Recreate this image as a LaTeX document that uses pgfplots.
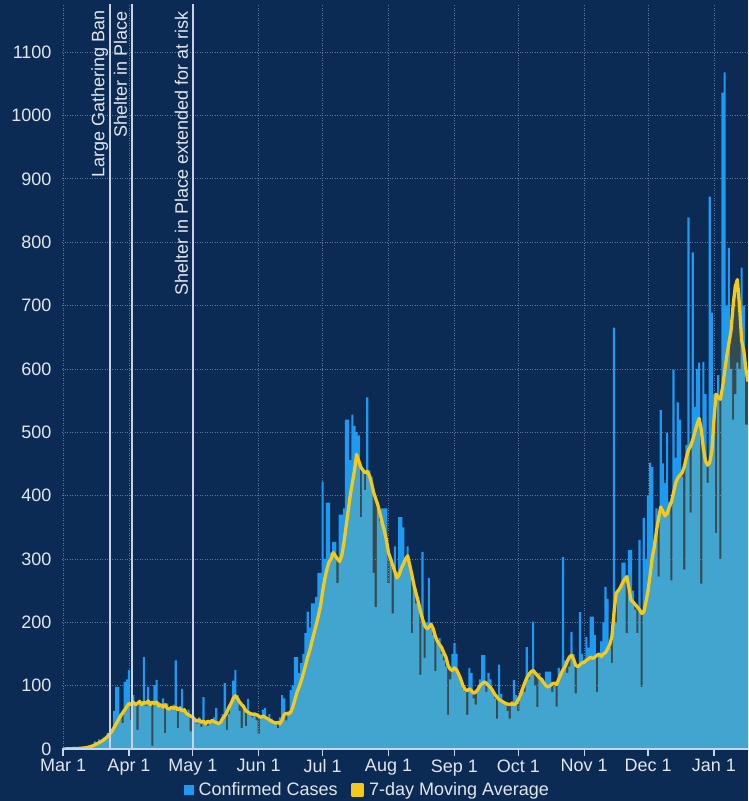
\documentclass[border=0pt]{standalone}
\usepackage{fontspec}
\setmainfont{Liberation Sans}
\usepackage{pgfplots}
\pgfplotsset{compat=1.18}
\usetikzlibrary{calc}
\definecolor{bgnavy}{RGB}{12,43,84}
\definecolor{barblue}{RGB}{28,155,240}
\definecolor{avgyellow}{RGB}{245,200,25}
\definecolor{avgfill}{RGB}{215,205,80}
\definecolor{gridc}{RGB}{95,120,155}
\definecolor{axislight}{RGB}{195,215,235}
\definecolor{labelc}{RGB}{225,230,238}
\definecolor{eventc}{RGB}{200,210,225}
\begin{document}
\begin{tikzpicture}
\useasboundingbox (0,0) rectangle (748pt,801pt);
\fill[bgnavy] (0,0) rectangle (748pt,801pt);
\begin{axis}[
  at={(62pt,52pt)}, anchor=south west,
  scale only axis, width=686pt, height=745pt,
  xmin=-0.5, xmax=322, ymin=0, ymax=1176,
  axis line style={draw=none},
  xtick={0,31,61,92,122,153,184,214,245,275,306},
  xticklabels={Mar 1,Apr 1,May 1,Jun 1,Jul 1,Aug 1,Sep 1,Oct 1,Nov 1,Dec 1,Jan 1},
  ytick={0,100,...,1100},
  tick align=outside,
  xtick pos=left, ytick pos=left,
  major tick length=7pt,
  xtick style={color=axislight, line width=1.2pt},
  ytick style={draw=none},
  grid=major,
  major grid style={color=gridc, line width=0.7pt, dash pattern=on 1pt off 1.5pt},
  tick label style={font=\fontsize{18}{21}\selectfont, text=labelc},
  /pgf/number format/assume math mode=true,
  /pgf/number format/1000 sep={},
  legend columns=2,
  legend style={at={(0.445,-0.055)}, anchor=center, draw=none, fill=none,
    text=labelc, font=\fontsize{18}{21}\selectfont,
    /tikz/every odd column/.append style={column sep=3pt},
    /tikz/every even column/.append style={column sep=11pt}},
]
\addplot[fill=barblue, draw=none, const plot mark mid,
  legend image code/.code={\fill[barblue] (0pt,-5pt) rectangle (10pt,5pt);}] coordinates {
(0,0)(1,0)(2,0)(3,1)(4,0)(5,1)(6,1)(7,2)(8,1)(9,2)(10,3)(11,2)(12,4)(13,5)(14,8)(15,12)(16,10)(17,15)(18,14)(19,18)(20,17)(21,25)(22,30)(23,32)(24,60)(25,98)(26,98)(27,55)(28,41)(29,106)(30,110)
(31,125)(32,46)(33,85)(34,72)(35,30)(36,78)(37,70)(38,145)(39,68)(40,98)(41,76)(42,5)(43,101)(44,109)(45,74)(46,70)(47,80)(48,25)(49,72)(50,66)(51,62)(52,70)(53,140)(54,33)(55,68)(56,95)(57,60)(58,55)(59,62)(60,28)
(61,90)(62,45)(63,40)(64,50)(65,35)(66,82)(67,40)(68,37)(69,45)(70,42)(71,50)(72,65)(73,38)(74,42)(75,55)(76,104)(77,30)(78,55)(79,70)(80,108)(81,125)(82,85)(83,60)(84,33)(85,70)(86,36)(87,79)(88,55)(89,50)(90,58)(91,45)
(92,24)(93,52)(94,62)(95,65)(96,45)(97,55)(98,48)(99,40)(100,42)(101,33)(102,50)(103,85)(104,80)(105,45)(106,60)(107,93)(108,100)(109,145)(110,145)(111,120)(112,136)(113,150)(114,183)(115,217)(116,192)(117,230)(118,230)(119,240)(120,278)(121,278)
(122,422)(123,300)(124,389)(125,389)(126,310)(127,327)(128,327)(129,262)(130,370)(131,370)(132,380)(133,520)(134,520)(135,456)(136,528)(137,510)(138,500)(139,495)(140,366)(141,440)(142,409)(143,555)(144,440)(145,430)(146,278)(147,224)(148,380)(149,360)(150,380)(151,380)(152,380)
(153,262)(154,300)(155,214)(156,320)(157,280)(158,366)(159,366)(160,350)(161,300)(162,320)(163,290)(164,183)(165,260)(166,230)(167,240)(168,117)(169,311)(170,144)(171,200)(172,270)(173,190)(174,180)(175,123)(176,170)(177,175)(178,150)(179,140)(180,130)(181,54)(182,110)(183,150)
(184,167)(185,150)(186,120)(187,110)(188,95)(189,90)(190,54)(191,128)(192,120)(193,80)(194,70)(195,95)(196,110)(197,148)(198,148)(199,90)(200,120)(201,110)(202,95)(203,80)(204,48)(205,133)(206,87)(207,75)(208,70)(209,60)(210,48)(211,75)(212,109)(213,85)
(214,60)(215,80)(216,97)(217,90)(218,161)(219,110)(220,120)(221,201)(222,100)(223,66)(224,120)(225,110)(226,100)(227,122)(228,122)(229,122)(230,90)(231,100)(232,67)(233,128)(234,120)(235,303)(236,140)(237,120)(238,130)(239,185)(240,150)(241,88)(242,130)(243,216)(244,150)
(245,140)(246,177)(247,160)(248,209)(249,209)(250,180)(251,90)(252,150)(253,170)(254,200)(255,256)(256,237)(257,160)(258,136)(259,665)(260,200)(261,250)(262,252)(263,294)(264,294)(265,183)(266,314)(267,314)(268,250)(269,220)(270,183)(271,330)(272,98)(273,365)(274,300)
(275,400)(276,452)(277,445)(278,330)(279,380)(280,272)(281,535)(282,451)(283,420)(284,499)(285,390)(286,266)(287,599)(288,460)(289,547)(290,520)(291,430)(292,283)(293,480)(294,839)(295,373)(296,784)(297,540)(298,600)(299,610)(300,261)(301,611)(302,560)(303,420)(304,872)(305,689)
(306,560)(307,341)(308,590)(309,300)(310,1036)(311,1068)(312,700)(313,791)(314,600)(315,520)(316,560)(317,610)(318,600)(319,760)(320,700)(321,512)(322,512)
} \closedcycle;
\addlegendentry{Confirmed Cases}
\addplot[fill=avgfill, fill opacity=0.2, draw=none, forget plot] coordinates {
(0,0)(4,0.5)(8,1)(11,2)(14,5)(17,10)(19,14)(21,20)(23,28)(25,40)(27,52)(29,62)(31,72)(32,70)(33,74)(34,70)(35,72)(36,75)(37,70)(38,74)(39,72)(40,76)(41,70)(42,74)(43,72)(44,74)(45,68)(46,70)(47,66)(48,70)(49,64)(50,63)(51,66)(52,64)(53,66)(54,62)(55,64)(56,60)(57,62)(58,56)(59,54)(60,52)
(61,50)(62,46)(63,44)(64,46)(65,42)(66,44)(67,40)(68,44)(69,42)(70,45)(71,43)(72,42)(73,40)(74,42)(75,48)(76,52)(77,58)(78,66)(79,72)(80,80)(81,84)(82,80)(83,74)(84,70)(85,66)(86,60)(87,58)(88,56)(89,55)(90,55)(91,54)
(92,52)(93,50)(94,52)(95,50)(96,48)(97,46)(98,44)(99,42)(100,41)(101,42)(102,40)(103,46)(104,55)(105,56)(106,55)(107,58)(108,66)(109,78)(110,90)(111,98)(112,108)(113,120)(114,132)(115,145)(116,156)(117,170)(118,183)(119,196)(120,210)(121,225)
(122,248)(123,268)(124,283)(125,295)(126,300)(127,310)(128,305)(129,300)(130,296)(131,305)(132,325)(133,350)(134,375)(135,400)(136,420)(137,440)(138,465)(139,455)(140,445)(141,440)(142,436)(143,438)(144,432)(145,420)(146,405)(147,395)(148,385)(149,372)(150,358)(151,345)(152,330)
(153,310)(154,300)(155,290)(156,280)(157,270)(158,275)(159,285)(160,292)(161,300)(162,305)(163,290)(164,275)(165,258)(166,245)(167,232)(168,218)(169,205)(170,195)(171,190)(172,192)(173,197)(174,190)(175,178)(176,170)(177,165)(178,160)(179,152)(180,145)(181,132)(182,126)(183,124)
(184,128)(185,125)(186,118)(187,110)(188,100)(189,94)(190,92)(191,95)(192,92)(193,88)(194,90)(195,94)(196,100)(197,103)(198,106)(199,104)(200,100)(201,97)(202,92)(203,86)(204,82)(205,78)(206,76)(207,74)(208,72)(209,71)(210,70)(211,72)(212,70)(213,72)
(214,78)(215,85)(216,95)(217,104)(218,112)(219,118)(220,122)(221,124)(222,120)(223,116)(224,112)(225,110)(226,104)(227,100)(228,98)(229,100)(230,103)(231,104)(232,102)(233,110)(234,118)(235,125)(236,130)(237,138)(238,145)(239,148)(240,142)(241,132)(242,130)(243,133)(244,136)
(245,137)(246,140)(247,142)(248,145)(249,143)(250,145)(251,148)(252,150)(253,146)(254,150)(255,152)(256,158)(257,165)(258,177)(259,215)(260,246)(261,250)(262,255)(263,262)(264,268)(265,272)(266,255)(267,235)(268,232)(269,228)(270,224)(271,220)(272,214)(273,216)(274,232)
(275,250)(276,275)(277,303)(278,320)(279,345)(280,365)(281,382)(282,375)(283,368)(284,372)(285,382)(286,390)(287,405)(288,420)(289,428)(290,432)(291,436)(292,445)(293,460)(294,472)(295,478)(296,488)(297,500)(298,512)(299,522)(300,505)(301,475)(302,455)(303,448)(304,452)(305,470)
(306,520)(307,560)(308,555)(309,552)(310,570)(311,595)(312,620)(313,640)(314,660)(315,700)(316,730)(317,741)(318,700)(319,645)(320,630)(321,600)(322,580)
} \closedcycle;
\addplot[avgyellow, line width=3.3pt, line join=round,
  legend image code/.code={\fill[avgyellow] (0pt,-5pt) rectangle (10pt,5pt);}] coordinates {
(0,0)(4,0.5)(8,1)(11,2)(14,5)(17,10)(19,14)(21,20)(23,28)(25,40)(27,52)(29,62)(31,72)(32,70)(33,74)(34,70)(35,72)(36,75)(37,70)(38,74)(39,72)(40,76)(41,70)(42,74)(43,72)(44,74)(45,68)(46,70)(47,66)(48,70)(49,64)(50,63)(51,66)(52,64)(53,66)(54,62)(55,64)(56,60)(57,62)(58,56)(59,54)(60,52)
(61,50)(62,46)(63,44)(64,46)(65,42)(66,44)(67,40)(68,44)(69,42)(70,45)(71,43)(72,42)(73,40)(74,42)(75,48)(76,52)(77,58)(78,66)(79,72)(80,80)(81,84)(82,80)(83,74)(84,70)(85,66)(86,60)(87,58)(88,56)(89,55)(90,55)(91,54)
(92,52)(93,50)(94,52)(95,50)(96,48)(97,46)(98,44)(99,42)(100,41)(101,42)(102,40)(103,46)(104,55)(105,56)(106,55)(107,58)(108,66)(109,78)(110,90)(111,98)(112,108)(113,120)(114,132)(115,145)(116,156)(117,170)(118,183)(119,196)(120,210)(121,225)
(122,248)(123,268)(124,283)(125,295)(126,300)(127,310)(128,305)(129,300)(130,296)(131,305)(132,325)(133,350)(134,375)(135,400)(136,420)(137,440)(138,465)(139,455)(140,445)(141,440)(142,436)(143,438)(144,432)(145,420)(146,405)(147,395)(148,385)(149,372)(150,358)(151,345)(152,330)
(153,310)(154,300)(155,290)(156,280)(157,270)(158,275)(159,285)(160,292)(161,300)(162,305)(163,290)(164,275)(165,258)(166,245)(167,232)(168,218)(169,205)(170,195)(171,190)(172,192)(173,197)(174,190)(175,178)(176,170)(177,165)(178,160)(179,152)(180,145)(181,132)(182,126)(183,124)
(184,128)(185,125)(186,118)(187,110)(188,100)(189,94)(190,92)(191,95)(192,92)(193,88)(194,90)(195,94)(196,100)(197,103)(198,106)(199,104)(200,100)(201,97)(202,92)(203,86)(204,82)(205,78)(206,76)(207,74)(208,72)(209,71)(210,70)(211,72)(212,70)(213,72)
(214,78)(215,85)(216,95)(217,104)(218,112)(219,118)(220,122)(221,124)(222,120)(223,116)(224,112)(225,110)(226,104)(227,100)(228,98)(229,100)(230,103)(231,104)(232,102)(233,110)(234,118)(235,125)(236,130)(237,138)(238,145)(239,148)(240,142)(241,132)(242,130)(243,133)(244,136)
(245,137)(246,140)(247,142)(248,145)(249,143)(250,145)(251,148)(252,150)(253,146)(254,150)(255,152)(256,158)(257,165)(258,177)(259,215)(260,246)(261,250)(262,255)(263,262)(264,268)(265,272)(266,255)(267,235)(268,232)(269,228)(270,224)(271,220)(272,214)(273,216)(274,232)
(275,250)(276,275)(277,303)(278,320)(279,345)(280,365)(281,382)(282,375)(283,368)(284,372)(285,382)(286,390)(287,405)(288,420)(289,428)(290,432)(291,436)(292,445)(293,460)(294,472)(295,478)(296,488)(297,500)(298,512)(299,522)(300,505)(301,475)(302,455)(303,448)(304,452)(305,470)
(306,520)(307,560)(308,555)(309,552)(310,570)(311,595)(312,620)(313,640)(314,660)(315,700)(316,730)(317,741)(318,700)(319,645)(320,630)(321,600)(322,580)
};
\addlegendentry{7-day Moving Average}
\addplot[eventc, line width=1.5pt, forget plot] coordinates {(22,0) (22,1176)};
\addplot[eventc, line width=1.5pt, forget plot] coordinates {(32.3,0) (32.3,1176)};
\addplot[eventc, line width=1.5pt, forget plot] coordinates {(61,0) (61,1176)};
\addplot[axislight, line width=2pt, forget plot] coordinates {(-0.5,0) (322,0)};
\node[rotate=90, anchor=base east, inner sep=0pt, font=\fontsize{18}{21}\selectfont, text=labelc]
  at ($(axis cs:22,1176)+(-5.5pt,-6pt)$) {Large Gathering Ban};
\node[rotate=90, anchor=base east, inner sep=0pt, font=\fontsize{18}{21}\selectfont, text=labelc]
  at ($(axis cs:32.3,1176)+(-5pt,-7.5pt)$) {Shelter in Place};
\node[rotate=90, anchor=base east, inner sep=0pt, font=\fontsize{18}{21}\selectfont, text=labelc]
  at ($(axis cs:61,1176)+(-5pt,-7.5pt)$) {Shelter in Place extended for at risk};
\end{axis}
\end{tikzpicture}
\end{document}
